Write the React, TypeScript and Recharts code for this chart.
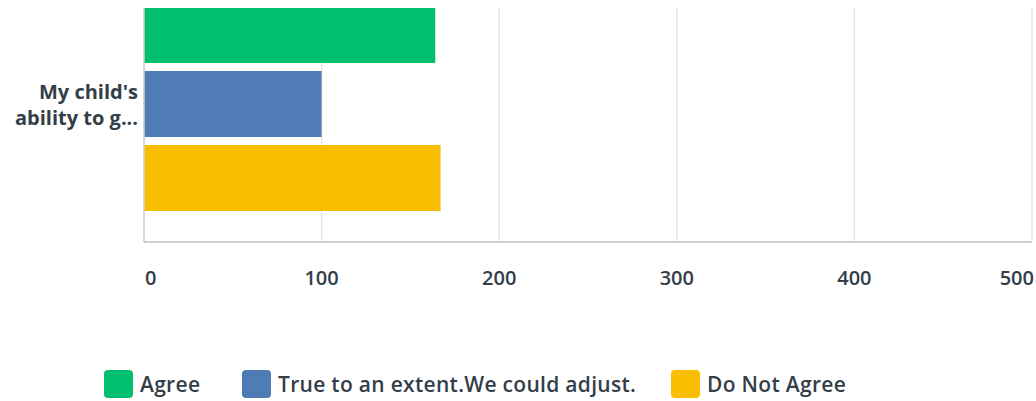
import { BarChart, Bar, XAxis, YAxis, CartesianGrid } from "recharts";

const categories = ["My child's ability to g..."];
const labelLines = ["My child's", "ability to g..."];
const seriesNames = ["Agree", "True to an extent.We could adjust.", "Do Not Agree"];
const seriesKeys = ["agree", "partly", "disagree"];
const seriesColors = ["#00bf6f", "#507cb6", "#f9be00"];
const agree = [164];
const partly = [100];
const disagree = [167];
const xTicks = [0, 100, 200, 300, 400, 500];

const data = categories.map((c, i) => ({
  name: c,
  agree: agree[i],
  partly: partly[i],
  disagree: disagree[i],
}));

const FONT = "'Open Sans', sans-serif";
const TEXT = "#333e48";
// legend item left edges (page px)
const legendLeft = [104, 242, 671];

function XTick(props: any) {
  const { x, y, payload, index } = props;
  const last = index === xTicks.length - 1;
  const first = index === 0;
  return (
    <text
      x={first ? x + 1 : last ? x + 2 : x}
      y={y + 33}
      textAnchor={first ? "start" : last ? "end" : "middle"}
      dominantBaseline="central"
      fill={TEXT}
      fontSize={20}
      fontFamily={FONT}
      fontWeight={600}
    >
      {payload.value}
    </text>
  );
}

function YTick(props: any) {
  const { x, y } = props;
  return (
    <g>
      {labelLines.map((l, i) => (
        <text
          key={i}
          x={x}
          y={y - 13 + i * 26}
          textAnchor="end"
          dominantBaseline="central"
          fill={TEXT}
          fontSize={20}
          fontWeight={700}
          fontFamily={FONT}
        >
          {l}
        </text>
      ))}
    </g>
  );
}

export default function App() {
  return (
    <div
      style={{
        position: "fixed",
        top: 8,
        left: 0,
        width: 1036,
        height: 393,
        overflow: "hidden",
        background: "#fff",
      }}
    >
      {/* chart top sits above the visible area, like the scrolled original */}
      <div style={{ position: "absolute", top: -41, left: 8 }}>
        <BarChart
          width={1036}
          height={434}
          data={data}
          layout="vertical"
          margin={{ top: 0, right: 12, bottom: 99, left: 0 }}
          barCategoryGap={30}
          barGap={8}
        >
          <CartesianGrid horizontal={false} stroke="#e6e6e6" strokeWidth={1.5} />
          <XAxis
            type="number"
            domain={[0, 500]}
            ticks={xTicks}
            height={60}
            tickLine={false}
            tickSize={0}
            axisLine={{ stroke: "#cfcfcf", strokeWidth: 2 }}
            tick={<XTick />}
            interval={0}
          />
          <YAxis
            type="category"
            dataKey="name"
            width={136}
            tickLine={false}
            tickSize={6}
            tickMargin={0}
            axisLine={{ stroke: "#cfcfcf", strokeWidth: 1.5 }}
            tick={<YTick />}
          />
          {seriesKeys.map((k, i) => (
            <Bar key={k} dataKey={k} name={seriesNames[i]} fill={seriesColors[i]} isAnimationActive={false} />
          ))}
        </BarChart>
      </div>
      {seriesNames.map((n, i) => (
        <div
          key={n}
          style={{
            position: "absolute",
            top: 362,
            left: legendLeft[i],
            height: 28,
            display: "flex",
            alignItems: "center",
            fontFamily: FONT,
            fontSize: 21,
            fontWeight: 600,
            letterSpacing: 0.3,
            color: TEXT,
            whiteSpace: "nowrap",
          }}
        >
          <span
            style={{
              display: "inline-block",
              width: 29,
              height: 28,
              borderRadius: 4,
              background: seriesColors[i],
              marginRight: 7,
            }}
          />
          <span>{n}</span>
        </div>
      ))}
    </div>
  );
}
